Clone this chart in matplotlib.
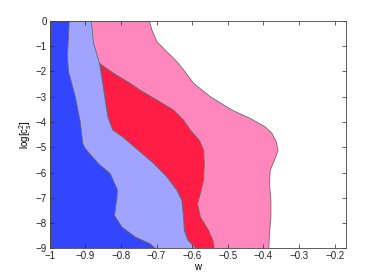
import numpy as np
import matplotlib
matplotlib.use('Agg')
from matplotlib import pyplot as plt

plt.rcParams['font.family'] = ['Liberation Sans', 'DejaVu Sans']
plt.rcParams['mathtext.fontset'] = 'custom'
plt.rcParams['mathtext.rm'] = 'Liberation Sans'

# contour boundaries: log[c_s^2] levels and w values
b1_y = [0, -1.42, -2.0, -3.0, -4.0, -4.85, -5.05, -5.65, -6.04, -6.68, -7.0, -7.49, -7.7, -8.16, -8.55, -8.82, -9]
b1_w = [-0.945, -0.950, -0.947, -0.928, -0.914, -0.907, -0.900, -0.863, -0.830, -0.810, -0.811, -0.816, -0.818, -0.797, -0.760, -0.718, -0.704]

b2_y = [0, -0.88, -1.68, -2.47, -3.13, -3.79, -4.32, -4.59, -5.12, -5.64, -6.17, -6.70, -7.10, -7.76, -8.29, -8.68, -9]
b2_w = [-0.883, -0.877, -0.860, -0.851, -0.844, -0.837, -0.823, -0.795, -0.751, -0.708, -0.671, -0.643, -0.629, -0.624, -0.622, -0.612, -0.590]

b3_y = [-1.68, -2.07, -2.47, -2.74, -3.13, -3.53, -3.93, -4.32, -4.72, -5.12, -5.64, -6.30, -6.83, -7.23, -7.76, -8.29, -8.68, -9]
b3_w = [-0.860, -0.821, -0.774, -0.746, -0.699, -0.652, -0.624, -0.605, -0.580, -0.568, -0.566, -0.568, -0.577, -0.585, -0.577, -0.554, -0.542, -0.538]

b4_y = [0, -0.36, -0.82, -1.15, -1.55, -1.94, -2.47, -3.00, -3.53, -3.86, -4.19, -4.45, -4.79, -5.12, -5.51, -5.91, -6.44, -7.10, -7.76, -8.42, -9]
b4_w = [-0.720, -0.713, -0.699, -0.676, -0.647, -0.624, -0.596, -0.549, -0.488, -0.437, -0.395, -0.376, -0.364, -0.359, -0.369, -0.381, -0.383, -0.379, -0.379, -0.383, -0.385]

xticks = [-1, -0.9, -0.8, -0.7, -0.6, -0.5, -0.4, -0.3, -0.2]
xticklabels = ['\u22121', '\u22120.9', '\u22120.8', '\u22120.7', '\u22120.6', '\u22120.5', '\u22120.4', '\u22120.3', '\u22120.2']
yticks = [0, -1, -2, -3, -4, -5, -6, -7, -8, -9]
yticklabels = ['0', '\u22121', '\u22122', '\u22123', '\u22124', '\u22125', '\u22126', '\u22127', '\u22128', '\u22129']

c_blue = '#3346ff'
c_lblue = '#a0a3ff'
c_red = '#ff1c45'
c_pink = '#ff87bc'
c_edge = '#6a6a6a'


def region(w, y):
    # polygon from the left axis edge (w=-1) out to a boundary curve
    xs = [-1] + list(w) + [-1]
    ys = [y[0]] + list(y) + [y[-1]]
    return xs, ys


fig = plt.figure(figsize=(3.82, 2.79), dpi=100)
ax = fig.add_axes([0.13, 0.11, 0.775, 0.815])

# layered like a filled contour: outer first
for (w, y, c) in [(b4_w, b4_y, c_pink), (b3_w, b3_y, c_red),
                  (b2_w, b2_y, c_lblue), (b1_w, b1_y, c_blue)]:
    xs, ys = region(w, y)
    ax.fill(xs, ys, color=c, lw=0)

for (w, y) in [(b1_w, b1_y), (b2_w, b2_y), (b3_w, b3_y), (b4_w, b4_y)]:
    ax.plot(w, y, color=c_edge, lw=0.6)

ax.set_xlim(-1, -0.169)
ax.set_ylim(-9, 0)
ax.set_xticks(xticks)
ax.set_xticklabels(xticklabels)
ax.set_yticks(yticks)
ax.set_yticklabels(yticklabels)
ax.tick_params(direction='in', top=True, right=True, length=3, width=0.5,
               labelsize=7, colors='#222222', pad=2)
for s in ax.spines.values():
    s.set_linewidth(0.6)
    s.set_color('#444444')

ax.set_xlabel('w', fontsize=7, labelpad=1)
ax.set_ylabel(r'log[$\mathregular{c_s^2}$]', fontsize=7, labelpad=1)

fig.savefig('out.png', dpi=100)
